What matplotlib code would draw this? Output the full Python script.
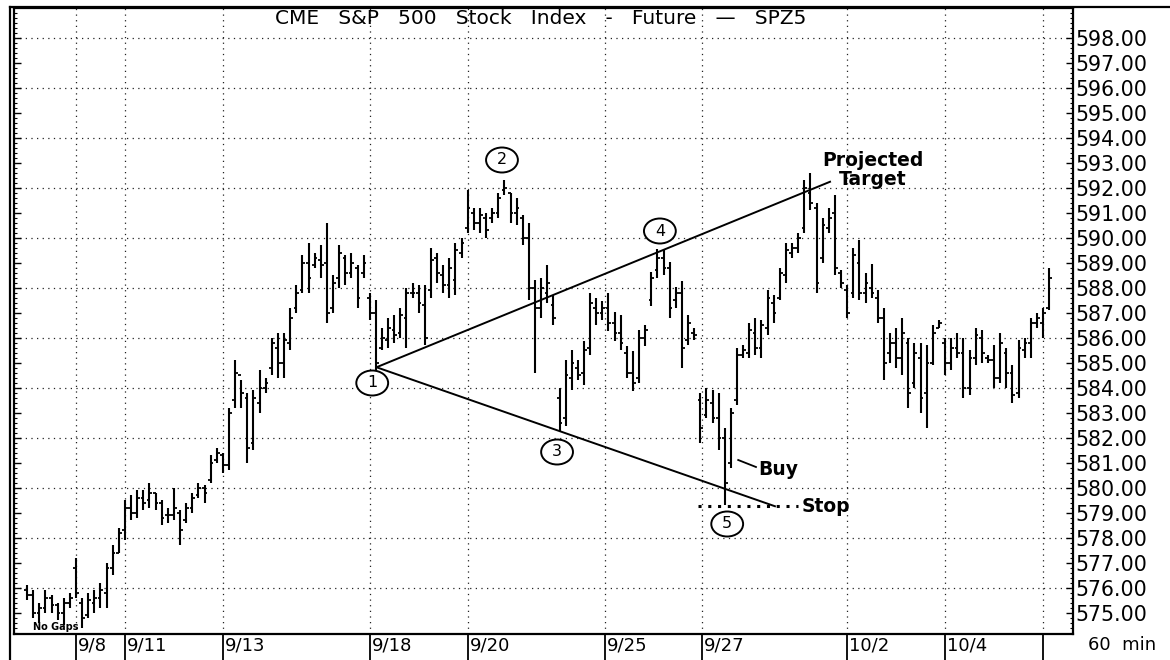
import numpy as np
import matplotlib.pyplot as plt
from matplotlib import transforms
from matplotlib.patches import Ellipse
from matplotlib.ticker import MultipleLocator, FormatStrFormatter

###############################################################################
# Data: 60 min bars, CME S&P 500 Dec 95 future
###############################################################################

bar_high = [576.1, 575.9, 575.4, 575.9, 575.7, 575.4, 575.6, 575.8,
            577.2, 575.6, 575.8, 575.9, 576.2, 577.0, 577.7, 578.4,
            579.5, 579.7, 579.9, 579.9, 580.2, 579.8, 579.5, 579.2,
            580.0, 579.1, 579.4, 579.8, 580.2, 580.1, 581.3, 581.6,
            581.4, 583.2, 585.1, 584.3, 583.8, 583.9, 584.7, 584.4,
            586.0, 586.2, 586.2, 587.2, 588.1, 589.3, 589.8, 589.4,
            589.7, 590.6, 588.5, 589.7, 589.3, 589.4, 588.9, 589.3,
            587.8, 587.5, 586.4, 586.8, 586.9, 587.2, 588.0, 588.2,
            588.1, 588.1, 589.6, 589.4, 588.9, 589.2, 589.8, 590.0,
            591.9, 591.2, 591.2, 591.0, 591.2, 591.8, 592.3, 591.8,
            591.6, 590.9, 590.6, 588.3, 588.4, 588.9, 587.7, 584.0,
            585.1, 585.5, 585.1, 585.85, 587.8, 587.6, 587.45, 587.8,
            587.05, 586.9, 585.65, 585.45, 586.3, 586.5, 588.65, 589.55,
            589.5, 589.05, 588.05, 588.25, 586.9, 586.4,
            583.8, 584.0, 583.9, 583.8, 582.4, 583.2, 585.6, 585.7,
            586.6, 586.8, 586.7, 587.9, 587.7, 588.8, 589.8, 589.8,
            590.2, 592.3, 592.6, 591.4, 590.8, 591.2, 591.7, 588.7,
            588.1, 589.6, 589.9, 588.6, 588.95, 587.9, 587.2, 586.2,
            586.4, 586.8, 586.0, 585.8, 585.8, 585.7, 586.5, 586.7,
            586.0, 586.0, 586.2, 586.0, 585.5, 586.4, 586.3, 585.3,
            585.7, 586.2, 585.6, 584.9, 585.9, 586.0, 586.8, 587.0,
            587.2, 588.8]

bar_low = [575.5, 574.8, 574.6, 575.0, 575.0, 574.7, 574.5, 575.2,
           575.6, 574.4, 574.8, 575.0, 575.2, 575.2, 576.5, 577.4,
           577.9, 578.7, 578.8, 579.1, 579.2, 579.1, 578.5, 578.6,
           578.7, 577.7, 578.6, 579.0, 579.6, 579.4, 580.2, 581.0,
           580.6, 580.7, 583.2, 583.2, 581.0, 581.5, 583.0, 583.8,
           584.5, 584.4, 584.4, 585.5, 587.0, 587.8, 587.8, 588.8,
           588.4, 586.6, 587.0, 588.0, 588.1, 588.4, 587.2, 588.4,
           586.7, 584.7, 585.5, 585.6, 585.8, 586.0, 585.6, 587.6,
           587.0, 585.7, 587.6, 588.2, 587.8, 587.6, 587.7, 589.2,
           590.2, 590.3, 590.2, 590.0, 590.6, 590.8, 591.7, 590.6,
           590.5, 589.7, 587.5, 584.6, 586.8, 587.4, 586.5, 582.25,
           582.45, 583.9, 584.3, 584.1, 585.3, 586.5, 586.7, 586.25,
           585.85, 585.5, 584.4, 583.85, 584.2, 585.65, 587.25, 588.4,
           588.5, 586.8, 587.2, 584.8, 585.7, 585.9,
           581.8, 582.8, 582.6, 581.5, 579.3, 580.8, 583.3, 585.2,
           585.2, 585.3, 585.2, 586.1, 586.6, 587.5, 588.2, 589.2,
           589.4, 590.2, 591.1, 587.8, 589.0, 590.2, 588.5, 588.0,
           586.8, 587.6, 587.5, 587.4, 587.6, 586.6, 584.3, 585.0,
           584.8, 584.5, 583.2, 584.0, 583.0, 582.4, 584.9, 586.4,
           584.5, 584.7, 585.2, 583.6, 583.7, 584.9, 585.0, 585.0,
           584.0, 584.2, 584.0, 583.4, 583.6, 585.2, 585.2, 586.4,
           586.0, 587.1]

bar_open = [575.9, 575.7, 575.0, 575.2, 575.6, 575.3, 575.0, 575.4,
            576.8, 575.4, 574.9, 575.4, 575.6, 575.8, 576.8, 577.4,
            578.3, 579.2, 579.0, 579.6, 579.5, 579.8, 579.4, 578.9,
            578.9, 579.0, 578.7, 579.2, 579.7, 580.0, 580.3, 581.1,
            581.3, 580.9, 583.5, 584.5, 583.6, 581.8, 583.4, 584.0,
            584.8, 585.6, 585.0, 585.8, 587.2, 587.9, 589.0, 588.9,
            589.1, 589.0, 587.2, 588.4, 589.2, 588.6, 588.8, 588.6,
            587.6, 587.0, 585.6, 585.9, 586.3, 586.2, 586.8, 587.8,
            587.8, 587.3, 587.9, 589.2, 588.5, 588.1, 588.3, 589.4,
            590.4, 591.0, 590.6, 590.8, 590.8, 591.0, 591.9, 591.8,
            591.0, 590.8, 590.0, 588.0, 587.2, 587.8, 587.3, 583.6,
            582.8, 584.4, 584.8, 584.6, 585.6, 587.2, 587.0, 587.2,
            586.6, 586.2, 585.4, 584.6, 584.4, 586.0, 587.5, 588.7,
            589.2, 588.8, 587.5, 587.8, 585.9, 586.2,
            583.5, 582.9, 583.4, 582.8, 582.0, 581.0, 583.5, 585.3,
            585.4, 586.2, 585.6, 586.4, 587.4, 587.6, 588.5, 589.4,
            589.6, 590.4, 591.8, 591.2, 589.2, 590.4, 591.0, 588.6,
            587.9, 587.8, 589.0, 587.8, 588.0, 587.6, 586.8, 585.4,
            585.8, 585.2, 585.8, 584.2, 585.2, 583.8, 585.0, 586.4,
            585.8, 585.0, 585.6, 585.4, 584.0, 585.2, 586.0, 585.2,
            585.1, 584.4, 585.4, 584.6, 583.8, 585.5, 585.8, 586.6,
            586.6, 587.2]

bar_close = [575.7, 575.0, 575.2, 575.6, 575.3, 575.0, 575.4, 575.6,
             575.8, 574.8, 575.5, 575.6, 575.9, 576.8, 577.4, 578.2,
             579.2, 579.0, 579.6, 579.4, 579.8, 579.4, 578.8, 578.9,
             579.2, 578.3, 579.2, 579.6, 580.0, 579.8, 581.0, 581.4,
             580.9, 583.0, 584.6, 583.8, 581.6, 583.6, 584.0, 584.2,
             585.8, 585.0, 585.9, 586.8, 587.8, 589.0, 588.4, 589.2,
             588.9, 587.0, 588.2, 589.4, 588.6, 589.0, 587.6, 589.0,
             587.0, 585.0, 586.0, 586.4, 586.1, 586.9, 587.8, 587.8,
             587.4, 586.0, 589.1, 588.6, 588.1, 588.8, 589.5, 589.8,
             591.2, 590.6, 590.9, 590.3, 591.0, 591.6, 592.0, 591.0,
             591.2, 590.0, 588.0, 587.2, 588.0, 588.2, 586.8, 582.6,
             584.5, 585.0, 584.5, 585.5, 587.4, 587.0, 587.2, 586.6,
             586.2, 585.8, 584.6, 584.2, 586.0, 586.3, 588.4, 589.2,
             588.8, 587.2, 587.8, 585.6, 586.6, 586.1,
             582.4, 583.5, 582.8, 582.0, 580.2, 583.0, 585.3, 585.5,
             586.3, 585.6, 586.5, 587.6, 587.0, 588.6, 589.5, 589.6,
             590.0, 592.0, 591.4, 588.2, 590.5, 590.8, 588.8, 588.2,
             587.0, 589.3, 587.8, 588.2, 587.8, 586.8, 585.0, 585.8,
             585.2, 586.2, 583.8, 585.4, 583.6, 585.0, 586.2, 586.6,
             585.0, 585.6, 585.4, 584.0, 585.2, 586.1, 585.4, 585.1,
             584.4, 585.8, 584.6, 583.7, 585.6, 585.8, 586.6, 586.8,
             587.0, 588.4]

# session separators (bar index) and their labels
day_starts = [8, 16, 32, 56, 72, 94.4, 110.3, 134, 150, 166]
day_labels = ['9/8', '9/11', '9/13', '9/18', '9/20', '9/25', '9/27',
              '10/2', '10/4', '']

# pivot points of the wedge
pivot_labels = ['1', '2', '3', '4', '5']
pivot_x = [56.4, 77.6, 86.6, 103.4, 114.4]
pivot_y = [584.19, 593.11, 581.43, 590.27, 578.55]

# trendlines
upper_line_x = [57.1, 131.2]
upper_line_y = [584.82, 592.24]
lower_line_x = [57.1, 122.2]
lower_line_y = [584.82, 579.26]
stop_price = 579.28

###############################################################################
# Plotting
###############################################################################

plt.rcParams['font.family'] = 'DejaVu Sans'

fig = plt.figure(figsize=(11.7, 6.6), dpi=100)
ax = fig.add_axes([14/1170, 26/660, 1059/1170, 626/660])

ax.set_xlim(-2.13, 170.9)
ax.set_ylim(574.15, 599.19)

# dotted grid
grid_kw = dict(colors='#222222', linestyles=(0, (1, 3.5)), linewidth=0.9, zorder=1)
ax.hlines(np.arange(576, 599, 2), -2.13, 170.9, **grid_kw)
ax.vlines(day_starts, 574.15, 599.19, **grid_kw)

# OHLC bars
bar_x = np.arange(len(bar_high))
ax.vlines(bar_x, bar_low, bar_high, color='black', linewidth=1.5, zorder=3)
ax.hlines(bar_open, bar_x - 0.45, bar_x, color='black', linewidth=1.3, zorder=3)
ax.hlines(bar_close, bar_x, bar_x + 0.45, color='black', linewidth=1.3, zorder=3)

# wedge lines
ax.plot(upper_line_x, upper_line_y, color='black', lw=1.4, zorder=4)
ax.plot(lower_line_x, lower_line_y, color='black', lw=1.4, zorder=4)
ax.plot([109.6, 126.0], [stop_price, stop_price], color='black', lw=2.2,
        linestyle=(0, (1, 2.2)), zorder=4)
ax.plot([116.2, 119.1], [581.11, 580.83], color='black', lw=1.3, zorder=4)

for lab, px, py in zip(pivot_labels, pivot_x, pivot_y):
    ax.add_patch(Ellipse((px, py), 5.2, 1.0, fc='white', ec='black',
                         lw=1.4, zorder=5))
    ax.text(px, py, lab, ha='center', va='center', fontsize=11.5, zorder=6)

ax.text(126.6, 579.23, 'Stop', fontsize=13.5, fontweight='bold',
        ha='left', va='center', zorder=5)
ax.text(119.4, 580.71, 'Buy', fontsize=13.5, fontweight='bold',
        ha='left', va='center', zorder=5)
ax.text(138.2, 592.69, 'Projected\nTarget', fontsize=13.5, fontweight='bold',
        ha='center', va='center', linespacing=1.0, zorder=5)
ax.text(1.0, 574.43, 'No Gaps', fontsize=7, fontweight='bold',
        ha='left', va='center', zorder=5)

ax.text(0.4976, 0.984, 'CME   S&P   500   Stock   Index   -   Future   \u2014   SPZ5',
        transform=ax.transAxes, ha='center', va='center', fontsize=14.5, zorder=5)

# right price scale
ax.yaxis.tick_right()
ax.yaxis.set_minor_locator(MultipleLocator(0.2))
ax.yaxis.set_major_formatter(FormatStrFormatter('%.2f'))
ax.set_yticks(np.arange(575, 599, 1))
ax.set_ylim(574.15, 599.19)
ax.tick_params(axis='y', which='major', direction='in', length=5, width=1,
               left=True, right=True, labelleft=False, labelright=True,
               labelsize=14.8, pad=2)
ax.tick_params(axis='y', which='minor', direction='in', length=2.5, width=0.8,
               left=True, right=True)
ax.set_xticks([])
for sp in ax.spines.values():
    sp.set_linewidth(1.6)

# date strip under the chart
trans = transforms.blended_transform_factory(ax.transData, ax.transAxes)
for xs, lab in zip(day_starts, day_labels):
    ax.plot([xs, xs], [0, -0.05], color='black', lw=1.3, transform=trans,
            clip_on=False)
    ax.text(xs + 0.3, -0.018, lab, transform=trans, ha='left', va='center',
            fontsize=13)

fig.text(1122/1170, 1 - 645/660, '60  min', ha='center', va='center', fontsize=13)

# outer frame
fig.add_artist(plt.Line2D([10/1170, 1], [1 - 7/660, 1 - 7/660], color='black', lw=1.6))
fig.add_artist(plt.Line2D([10/1170, 10/1170], [0, 1 - 7/660], color='black', lw=1.6))

fig.savefig('out.png', dpi=100)
